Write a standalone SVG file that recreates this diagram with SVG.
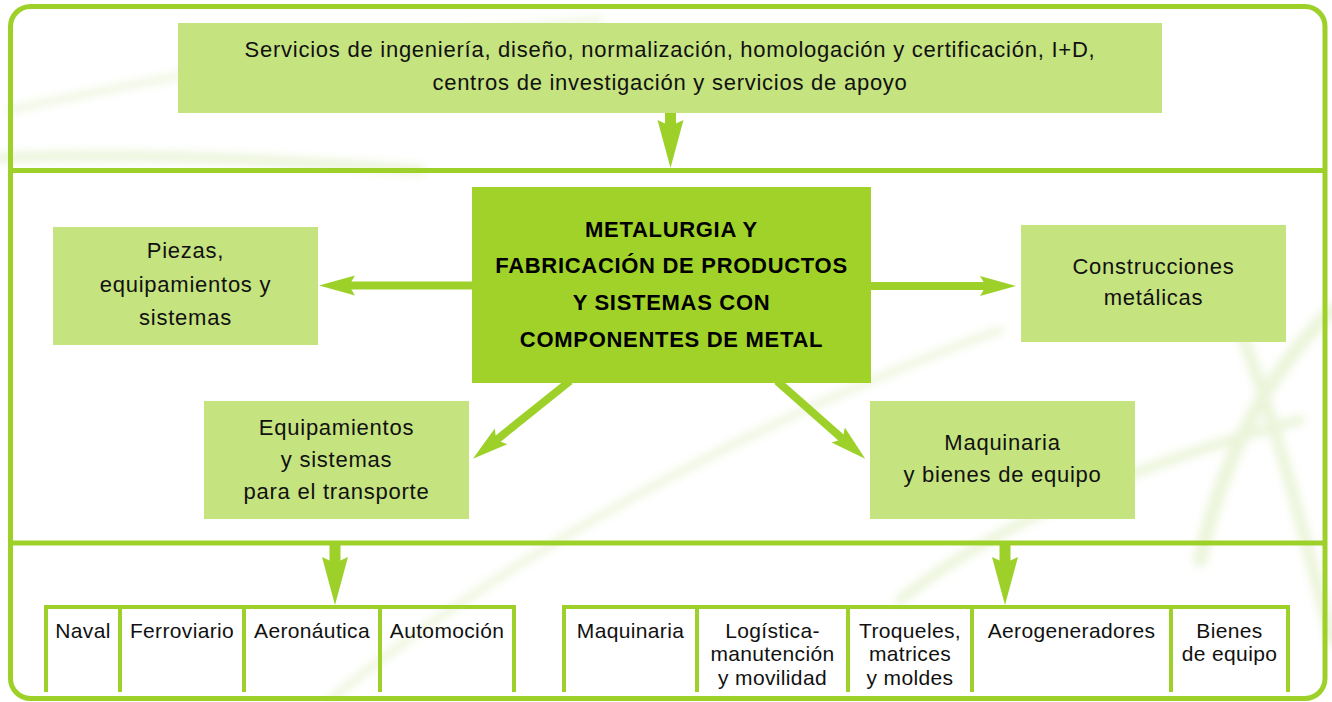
<svg xmlns="http://www.w3.org/2000/svg" width="1332" height="702" viewBox="0 0 1332 702">
<defs>
<style>
.lt{fill:#C5E37E}
.bt{fill:#A0D22A}
.t{font-family:"Liberation Sans",Arial,sans-serif;font-size:22px;letter-spacing:0.75px;fill:#111;text-anchor:middle}
.tb{font-family:"Liberation Sans",Arial,sans-serif;font-size:22px;letter-spacing:0.7px;font-weight:bold;fill:#000;text-anchor:middle}
.ts{font-family:"Liberation Sans",Arial,sans-serif;font-size:21px;letter-spacing:0.35px;fill:#111;text-anchor:middle}
.frame{fill:none;stroke:#9DD12A;stroke-width:5}
.tab{fill:none;stroke:#9DD12A;stroke-width:4}
.a8{stroke:#9DD12A;stroke-width:8;fill:none}
.a11{stroke:#9DD12A;stroke-width:11;fill:none}
.streak{fill:none;stroke:#B9D97A;stroke-linecap:round}
</style>
<marker id="ah" markerUnits="userSpaceOnUse" markerWidth="50" markerHeight="30" viewBox="0 -15 50 30" refX="6" refY="0" orient="auto" overflow="visible">
<path d="M0,-10 L36,0 L0,10 L6,0 Z" fill="#9DD12A"/>
</marker>
<marker id="av" markerUnits="userSpaceOnUse" markerWidth="60" markerHeight="40" viewBox="0 -20 60 40" refX="6" refY="0" orient="auto" overflow="visible">
<path d="M0,-13 L48,0 L0,13 L6,0 Z" fill="#9DD12A"/>
</marker>
<filter id="blur" x="-20%" y="-20%" width="140%" height="140%"><feGaussianBlur stdDeviation="4"/></filter>
</defs>
<rect width="1332" height="702" fill="#fff"/>
<g id="background" filter="url(#blur)" opacity="0.28">
<path class="streak" d="M10,110 C150,80 350,40 600,20" stroke-width="6"/>
<path class="streak" d="M0,158 C120,152 250,158 420,170" stroke-width="10"/>
<path class="streak" d="M330,700 C500,560 750,420 1000,330" stroke-width="7"/>
<path class="streak" d="M1332,310 C1260,380 1220,470 1200,560" stroke-width="14"/>
<path class="streak" d="M1240,330 C1280,430 1310,560 1332,640" stroke-width="12"/>
<path class="streak" d="M900,600 C1000,520 1150,460 1300,420" stroke-width="10"/>
</g>
<g id="frame">
<rect class="frame" x="10.5" y="6.5" width="1314.5" height="692" rx="20"/>
<line class="frame" x1="10.5" y1="170.5" x2="1325" y2="170.5"/>
<line class="frame" x1="10.5" y1="543" x2="1325" y2="543"/>
</g>
<g id="connectors">
<line class="a11" x1="670.5" y1="112" x2="670.5" y2="126" marker-end="url(#av)"/>
<line class="a8" x1="473" y1="285.5" x2="349" y2="285.5" marker-end="url(#ah)"/>
<line class="a8" x1="870" y1="286" x2="986" y2="286" marker-end="url(#ah)"/>
<line class="a8" x1="570" y1="381" x2="496.3" y2="440.1" marker-end="url(#ah)"/>
<line class="a8" x1="777" y1="381" x2="842.7" y2="439" marker-end="url(#ah)"/>
<line class="a11" x1="335" y1="545" x2="335" y2="563" marker-end="url(#av)"/>
<line class="a11" x1="1005" y1="545" x2="1005" y2="563" marker-end="url(#av)"/>
</g>
<g id="n-servicios">
<rect class="lt" x="178" y="23" width="984" height="90"/>
<text class="t" x="670" y="57">Servicios de ingeniería, diseño, normalización, homologación y certificación, I+D,</text>
<text class="t" x="670" y="90">centros de investigación y servicios de apoyo</text>
</g>
<g id="n-metalurgia">
<rect class="bt" x="472" y="187" width="399" height="196"/>
<text class="tb" x="671.5" y="237">METALURGIA Y</text>
<text class="tb" x="671.5" y="273">FABRICACIÓN DE PRODUCTOS</text>
<text class="tb" x="671.5" y="310">Y SISTEMAS CON</text>
<text class="tb" x="671.5" y="347">COMPONENTES DE METAL</text>
</g>
<g id="n-piezas">
<rect class="lt" x="53" y="227" width="265" height="118"/>
<text class="t" x="185.5" y="258">Piezas,</text>
<text class="t" x="185.5" y="292">equipamientos y</text>
<text class="t" x="185.5" y="325">sistemas</text>
</g>
<g id="n-construcciones">
<rect class="lt" x="1021" y="225" width="265" height="117"/>
<text class="t" x="1153.5" y="274">Construcciones</text>
<text class="t" x="1153.5" y="305">metálicas</text>
</g>
<g id="n-transporte">
<rect class="lt" x="204" y="401" width="265" height="118"/>
<text class="t" x="336.5" y="435">Equipamientos</text>
<text class="t" x="336.5" y="467">y sistemas</text>
<text class="t" x="336.5" y="499">para el transporte</text>
</g>
<g id="n-maquinaria">
<rect class="lt" x="870" y="401" width="265" height="118"/>
<text class="t" x="1002.5" y="450">Maquinaria</text>
<text class="t" x="1002.5" y="482">y bienes de equipo</text>
</g>
<g id="n-tabla-transporte">
<path class="tab" d="M46,692 V607 H514 V692 M120,607 V692 M244,607 V692 M380,607 V692"/>
<text class="ts" x="83" y="638">Naval</text>
<text class="ts" x="182" y="638">Ferroviario</text>
<text class="ts" x="312" y="638">Aeronáutica</text>
<text class="ts" x="447" y="638">Automoción</text>
</g>
<g id="n-tabla-maquinaria">
<path class="tab" d="M564,692 V607 H1288 V692 M697,607 V692 M848,607 V692 M972,607 V692 M1171,607 V692"/>
<text class="ts" x="630.5" y="638">Maquinaria</text>
<text class="ts" x="772.5" y="638">Logística-</text>
<text class="ts" x="772.5" y="661">manutención</text>
<text class="ts" x="772.5" y="685">y movilidad</text>
<text class="ts" x="910" y="638">Troqueles,</text>
<text class="ts" x="910" y="661">matrices</text>
<text class="ts" x="910" y="685">y moldes</text>
<text class="ts" x="1071.5" y="638">Aerogeneradores</text>
<text class="ts" x="1229.5" y="638">Bienes</text>
<text class="ts" x="1229.5" y="661">de equipo</text>
</g>
</svg>
